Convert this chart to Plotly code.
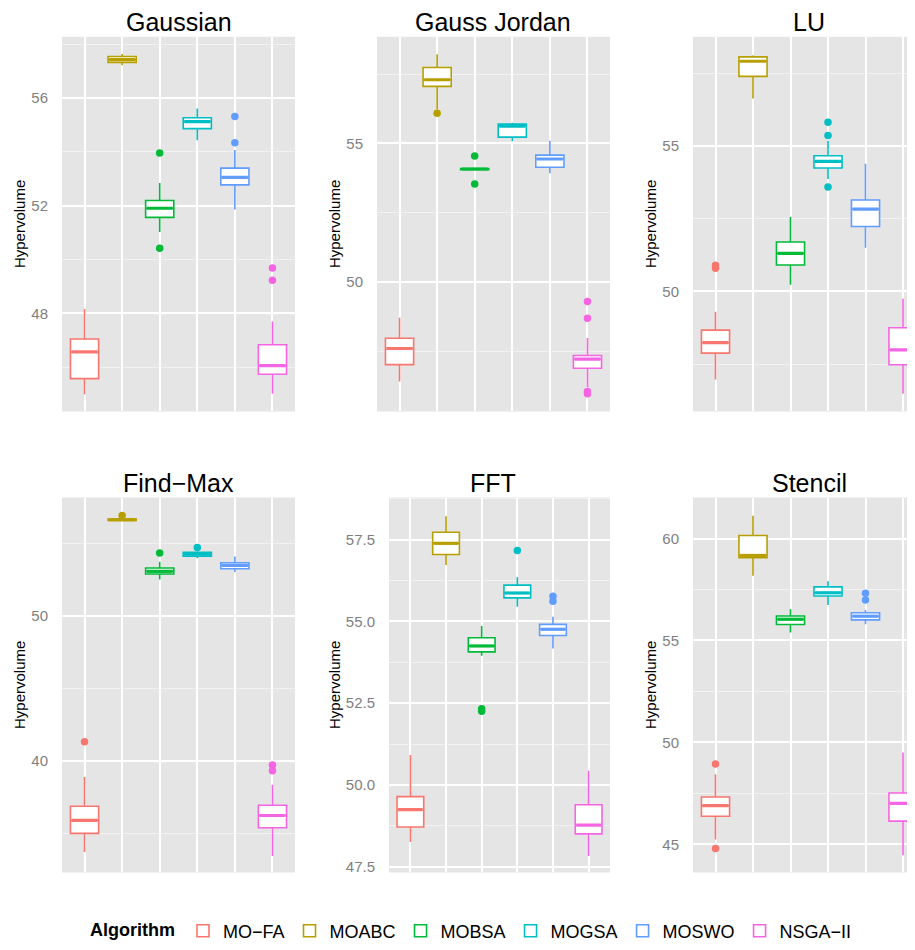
import plotly.graph_objects as go

# ---------------- data ----------------
BENCHMARKS = ["Gaussian", "Gauss Jordan", "LU", "Find\u2212Max", "FFT", "Stencil"]
ALGORITHMS = ["MO\u2212FA", "MOABC", "MOBSA", "MOGSA", "MOSWO", "NSGA\u2212II"]
COLORS = ["#F8766D", "#B79F00", "#00BA38", "#00BFC4", "#619CFF", "#F564E3"]

LOWER = [
    [45.00, 57.22, 51.03, 54.44, 51.86, 45.02],
    [46.41, 56.23, 54.05, 55.08, 53.93, 46.20],
    [46.97, 56.63, 50.23, 53.86, 51.50, 46.48],
    [33.70, 56.57, 52.49, 53.97, 53.01, 33.42],
    [48.25, 56.73, 53.95, 55.45, 54.17, 47.82],
    [45.24, 58.18, 55.39, 56.74, 55.80, 44.46],
]
Q1 = [
    [45.58, 57.33, 51.57, 54.87, 52.78, 45.74],
    [47.02, 57.06, 54.05, 55.23, 54.14, 46.89],
    [47.88, 57.39, 50.91, 54.24, 52.23, 47.48],
    [34.98, 56.57, 52.88, 54.11, 53.24, 35.37],
    [48.71, 57.05, 54.07, 55.72, 54.57, 48.50],
    [46.38, 59.06, 55.78, 57.18, 56.01, 46.14],
]
MEDIAN = [
    [46.57, 57.43, 51.91, 55.13, 53.06, 46.06],
    [47.60, 57.30, 54.08, 55.63, 54.44, 47.22],
    [48.24, 57.91, 51.31, 54.47, 52.83, 47.99],
    [35.87, 56.62, 53.06, 54.25, 53.47, 36.21],
    [49.24, 57.39, 54.25, 55.87, 54.76, 48.77],
    [46.90, 59.17, 56.04, 57.34, 56.19, 47.01],
]
Q3 = [
    [47.05, 57.55, 52.20, 55.27, 53.40, 46.84],
    [47.97, 57.74, 54.10, 55.70, 54.58, 47.35],
    [48.67, 58.06, 51.70, 54.66, 53.14, 48.75],
    [36.85, 56.67, 53.29, 54.38, 53.65, 36.92],
    [49.64, 57.73, 54.50, 56.11, 54.91, 49.39],
    [47.32, 60.15, 56.20, 57.63, 56.36, 47.52],
]
UPPER = [
    [48.17, 57.64, 52.85, 55.62, 54.07, 47.70],
    [48.71, 58.22, 54.10, 55.75, 55.10, 47.98],
    [49.30, 58.12, 52.56, 55.18, 54.39, 49.75],
    [38.86, 56.67, 53.72, 54.45, 54.09, 38.33],
    [50.91, 58.22, 54.86, 56.35, 55.14, 50.43],
    [48.44, 61.12, 56.53, 57.91, 56.49, 49.50],
]
OUTLIERS = [
    [[], [], [53.96, 50.42], [], [55.32, 54.34], [49.69, 49.23]],
    [[], [56.09], [54.55, 53.54], [], [], [49.30, 48.69, 46.05, 45.97]],
    [[50.90, 50.80], [], [], [55.81, 55.36, 53.59], [], []],
    [[41.30], [56.92], [54.32], [54.70], [], [39.70, 39.29]],
    [[], [], [52.33, 52.25], [57.17], [55.77, 55.62], []],
    [[48.94, 44.80], [], [], [], [57.31, 56.98], []],
]
Y_RANGES = [[44.36, 58.28], [45.33, 58.85], [45.875, 58.75],
            [32.28, 58.15], [47.32, 58.79], [43.62, 62.01]]
Y_DTICK = [4, 5, 5, 10, 2.5, 5]
Y_FORMAT = ["", "", "", "", ".1f", ""]

# ---------------- layout geometry (page pixels) ----------------
PAGE_W, PAGE_H = 915, 950
OFF = 8  # default body margin of the html page
W, H = PAGE_W - OFF, PAGE_H - OFF
PANEL_X = [(62, 295), (377, 610), (693, 925.5),
           (62, 295), (389, 610), (693, 925.5)]
YTITLE_X = [19, 334, 650, 19, 334, 650]
TITLE_X = [178.5, 493.5, 809, 178.5, 493.5, 809]
ROW_Y = [(37, 414), (500.7, 878)]
BOX_W = 0.75


def px(p):
    return (p - OFF) / W


def py(p):
    return 1 - (p - OFF) / H


fig = go.Figure()
annotations = []

for b, bench in enumerate(BENCHMARKS):
    r = b // 3
    ax = "" if b == 0 else str(b + 1)
    xa, ya = "x" + ax, "y" + ax
    for i, alg in enumerate(ALGORITHMS):
        fig.add_trace(go.Box(
            x=[i], q1=[Q1[b][i]], median=[MEDIAN[b][i]], q3=[Q3[b][i]],
            lowerfence=[LOWER[b][i]], upperfence=[UPPER[b][i]],
            name=alg, legendgroup=alg, showlegend=(b == 0),
            fillcolor="white", line=dict(color=COLORS[i], width=1.6),
            width=BOX_W, whiskerwidth=0, boxpoints=False,
            xaxis=xa, yaxis=ya, hoverinfo="skip",
        ))
        # thicker median (ggplot fatten)
        fig.add_trace(go.Scatter(
            x=[i - BOX_W / 2 + 0.03, i + BOX_W / 2 - 0.03],
            y=[MEDIAN[b][i], MEDIAN[b][i]],
            mode="lines", line=dict(color=COLORS[i], width=3.2),
            showlegend=False, legendgroup=alg, hoverinfo="skip",
            xaxis=xa, yaxis=ya,
        ))
        if OUTLIERS[b][i]:
            fig.add_trace(go.Scatter(
                x=[i] * len(OUTLIERS[b][i]), y=OUTLIERS[b][i],
                mode="markers", marker=dict(color=COLORS[i], size=7.5),
                showlegend=False, legendgroup=alg, hoverinfo="skip",
                xaxis=xa, yaxis=ya,
            ))

    x0, x1 = PANEL_X[b]
    y0, y1 = ROW_Y[r]
    ppu = (x1 - x0) / 6.2
    dom_x1 = min(x1, PAGE_W)
    xmax = -0.6 + (dom_x1 - x0) / ppu
    xkey = "xaxis" + ax
    ykey = "yaxis" + ax
    fig.layout[xkey] = dict(
        domain=[px(x0), min(1.0, px(dom_x1))], range=[-0.6, xmax],
        anchor=ya, tickvals=list(range(len(ALGORITHMS))),
        showticklabels=False, ticks="", showgrid=True,
        gridcolor="white", gridwidth=1.6, zeroline=False, showline=False,
        fixedrange=True,
    )
    fig.layout[ykey] = dict(
        domain=[py(y1), py(y0)], range=Y_RANGES[b],
        anchor=xa, dtick=Y_DTICK[b], tick0=0, tickformat=Y_FORMAT[b],
        showgrid=True, gridcolor="white", gridwidth=1.6,
        minor=dict(dtick=Y_DTICK[b] / 2, tick0=0, showgrid=True,
                   gridcolor="#F2F2F2", gridwidth=0.9),
        ticks="", ticklabelstandoff=13,
        tickfont=dict(family="Liberation Sans, Arial", size=15, color="#7F7F7F"),
        zeroline=False, showline=False, fixedrange=True,
    )
    fig.add_shape(type="rect", xref=xa + " domain", yref=ya + " domain",
                  x0=0, x1=1, y0=0, y1=1, fillcolor="#E5E5E5",
                  line=dict(width=0), layer="below")
    annotations.append(dict(
        text=bench, xref="paper", yref="paper",
        x=px(TITLE_X[b]), y=py(y0 - 15),
        xanchor="center", yanchor="middle", showarrow=False,
        font=dict(family="Liberation Sans, Arial", size=25, color="black"),
    ))
    annotations.append(dict(
        text="Hypervolume", xref="paper", yref="paper",
        x=px(YTITLE_X[b]), y=py((y0 + y1) / 2), textangle=-90,
        xanchor="center", yanchor="middle", showarrow=False,
        font=dict(family="Liberation Sans, Arial", size=15, color="black"),
    ))

fig.update_layout(
    width=W, height=H,
    margin=dict(l=0, r=0, t=0, b=0),
    paper_bgcolor="white", plot_bgcolor="rgba(0,0,0,0)",
    annotations=annotations,
    showlegend=True,
    legend=dict(
        orientation="h", x=px(472.5), xanchor="center", y=py(937), yanchor="middle",
        title=dict(text="<b>Algorithm</b>", side="left",
                   font=dict(family="Liberation Sans, Arial", size=18, color="black")),
        font=dict(family="Liberation Sans, Arial", size=18, color="black"),
        itemwidth=30, tracegroupgap=0,
    ),
)

fig.write_html("out.html")
